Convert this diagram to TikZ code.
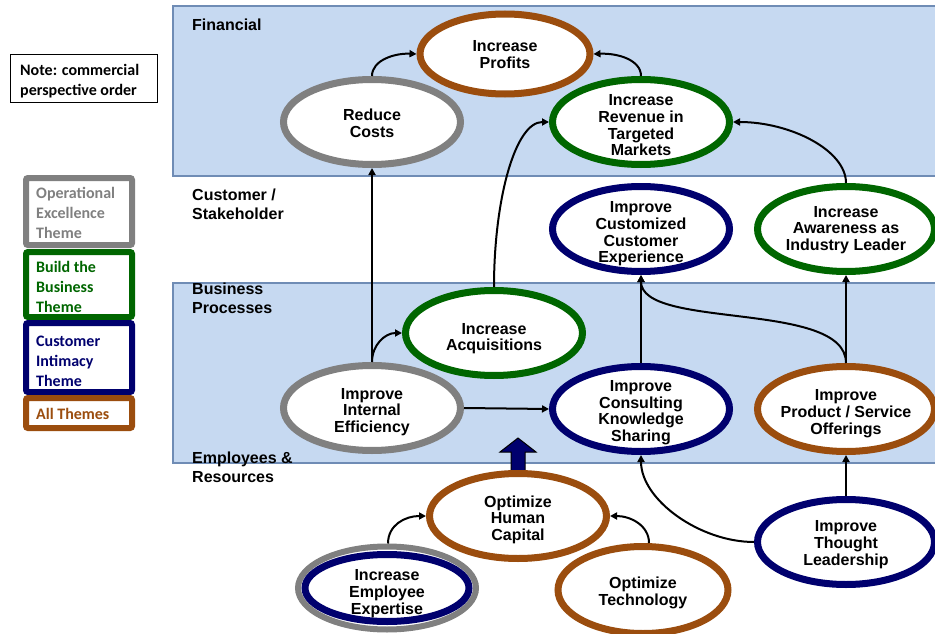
\documentclass[tikz,border=0pt]{standalone}
\usepackage{fontspec}
\setmainfont{Liberation Sans}
\newfontfamily\notefont{Carlito}
\usetikzlibrary{shapes.geometric,arrows.meta}

\definecolor{bandblue}{RGB}{198,217,241}
\definecolor{bandline}{RGB}{111,140,181}
\definecolor{themegray}{RGB}{128,128,128}
\definecolor{themegreen}{RGB}{0,102,0}
\definecolor{themenavy}{RGB}{0,0,110}
\definecolor{themebrown}{RGB}{155,77,14}

\begin{document}
\begin{tikzpicture}[x=1pt,y=-1pt,
  goal/.style={ellipse, draw, line width=7pt, fill=white,
    minimum width=177pt, minimum height=85pt,
    inner xsep=-6pt, inner ysep=-25pt, align=center, text depth=0pt,
    font=\bfseries\fontsize{16}{16.7}\selectfont},
  grayring/.style={goal, draw=themegray},
  greenring/.style={goal, draw=themegreen},
  navyring/.style={goal, draw=themenavy},
  brownring/.style={goal, draw=themebrown},
  conn/.style={line width=2pt, -{Triangle[length=7pt,width=7pt]}},
  band/.style={fill=bandblue},
  bandedge/.style={draw=bandline, line width=1.5pt},
  bandlabel/.style={anchor=west, align=left, inner sep=0pt,
    font=\bfseries\fontsize{16}{19}\selectfont},
  legendbox/.style={draw, line width=6pt, rounded corners=2pt, fill=white},
  legendtext/.style={anchor=north west, inner sep=0pt, align=left,
    font=\notefont\bfseries\fontsize{16}{20}\selectfont},
  blockarrow/.style={fill=themenavy, draw=black, line width=1pt, line join=miter}
]
\path[use as bounding box] (0,0) rectangle (935,634);
\clip (0,0) rectangle (935,634);

% perspective bands
\path[band] (173,6) rectangle (945,176);
\path[bandedge] (945,6) -- (173,6) -- (173,176) -- (945,176);
\path[band] (173,283) rectangle (945,463);
\path[bandedge] (945,283) -- (173,283) -- (173,463) -- (945,463);

\node[bandlabel] (lfin) at (192,25) {Financial};
\node[bandlabel] (lcus) at (192,204) {Customer /\\Stakeholder};
\node[bandlabel] (lbus) at (192,298) {Business\\Processes};
\node[bandlabel] (lemp) at (192,467) {Employees \&\\Resources};

% note
\draw[line width=1pt] (10,55) rectangle (157,103);
\node[legendtext] (note) at (20,64) {Note: commercial\\perspective order};

% theme legend
\draw[legendbox, draw=themegray] (26,178) rectangle (132,245);
\draw[legendbox, draw=themegreen] (26,252) rectangle (132,317);
\draw[legendbox, draw=themenavy] (26,323) rectangle (132,392);
\draw[legendbox, draw=themebrown] (26,398) rectangle (132,428);
\node[legendtext, text=themegray] (tops) at (36,187) {Operational\\Excellence\\Theme};
\node[legendtext, text=themegreen] (tbld) at (36,261) {Build the\\Business\\Theme};
\node[legendtext, text=themenavy] (tcus) at (36,336) {Customer\\Intimacy\\Theme};
\node[legendtext, text=themebrown] (tall) at (36,408) {All Themes};

% block arrow from human capital up into the processes
\path[blockarrow] (511,472) -- (511,452) -- (500,452) -- (518,438)
  -- (536,452) -- (525,452) -- (525,472) -- cycle;

% objectives (text height trims the vertical placement of each label)
\node[brownring, minimum width=170pt, minimum height=80pt, text height=28.4pt] (prof) at (505,54) {Increase\\Profits};
\node[grayring, text height=30.4pt] (rc) at (372,122) {Reduce\\Costs};
\node[greenring, text height=67.8pt] (rev) at (641,122) {Increase\\Revenue in\\Targeted\\Markets};
\node[navyring, text height=67.8pt] (cce) at (641,229) {Improve\\Customized\\Customer\\Experience};
\node[greenring, text height=43.1pt] (aw) at (846,229) {Increase\\Awareness as\\Industry Leader};
\node[greenring, text height=35.4pt] (acq) at (494,333) {Increase\\Acquisitions};
\node[grayring, text height=49.1pt] (iie) at (372,408) {Improve\\Internal\\Efficiency};
\node[navyring, text height=64.8pt] (cks) at (641,409) {Improve\\Consulting\\Knowledge\\Sharing};
\node[brownring, text height=50.1pt] (pso) at (846,409) {Improve\\Product / Service\\Offerings};
\node[brownring, text height=49.1pt] (ohc) at (518,516) {Optimize\\Human\\Capital};
\node[navyring, text height=46.1pt] (tl) at (846,542) {Improve\\Thought\\Leadership};
\node[goal, draw=themegray, line width=6pt, minimum width=178pt, minimum height=83pt] (expo) at (387,588) {};
\node[navyring, minimum width=164pt, minimum height=67pt, text height=52.1pt] (exp) at (387,588) {Increase\\Employee\\Expertise};
\node[brownring, minimum width=170pt, minimum height=87pt, text height=30.4pt] (tech) at (643,590) {Optimize\\Technology};

% cause and effect links
\draw[conn] (rc.north) .. controls (372,60) and (395,53) .. (prof.west);
\draw[conn] (rev.north) .. controls (641,60) and (618,53) .. (prof.east);
\draw[conn] (iie.north) -- (rc.south);
\draw[conn] (iie.north) .. controls (372,345) and (385,333) .. (acq.west);
\draw[conn] (acq.north) .. controls (494,200) and (515,122) .. (rev.west);
\draw[conn] (iie.east) -- (cks.west);
\draw[conn] (cks.north) -- (cce.south);
\draw[conn] (pso.north) .. controls (846,300) and (641,330) .. (cce.south);
\draw[conn] (pso.north) -- (aw.south);
\draw[conn] (aw.north) .. controls (846,150) and (790,122) .. (rev.east);
\draw[conn] (tl.north) -- (pso.south);
\draw[conn] (tl.west) .. controls (700,542) and (641,500) .. (cks.south);
\draw[conn] ([xshift=1pt]expo.north) .. controls (388,525) and (405,516) .. (ohc.west);
\draw[conn] ([xshift=6pt]tech.north) .. controls (649,525) and (630,516) .. (ohc.east);
\end{tikzpicture}
\end{document}
